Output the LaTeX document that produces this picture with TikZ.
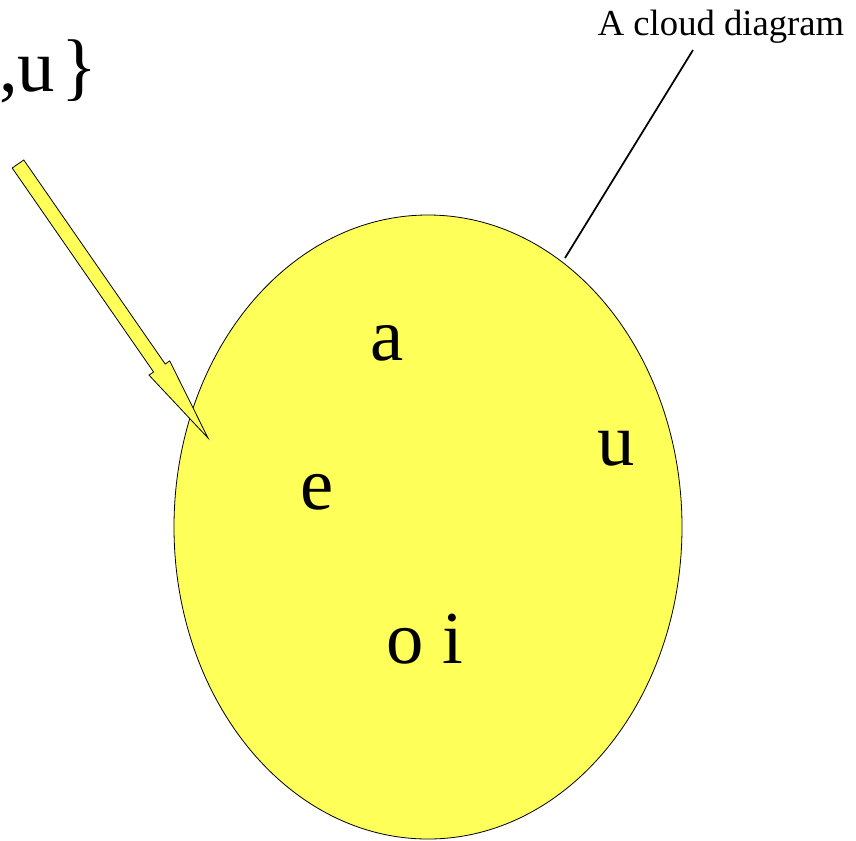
\documentclass[tikz,border=0pt]{standalone}
\usepackage{fontspec}
\setmainfont{Liberation Serif}
\usetikzlibrary{shapes.geometric}
\definecolor{cloudfill}{HTML}{FFFF59}
\newcommand\bigsym{\fontsize{56}{60}\selectfont}

\begin{document}
\begin{tikzpicture}[
  x=0.75pt,y=-0.75pt,
  cloud/.style={ellipse,draw=black,line width=0.6pt,fill=cloudfill,inner sep=0pt},
  elem/.style={font=\bigsym,anchor=base,inner sep=0pt},
  tag/.style={font=\fontsize{27.5}{30}\selectfont,anchor=base,inner sep=0pt},
  blockarrow/.style={draw=black,line width=0.6pt,fill=cloudfill,line join=miter},
  leader/.style={draw=black,line width=1.3pt}]
\useasboundingbox (0,0) rectangle (856,840);
% the set
\node[cloud,minimum width=381pt,minimum height=468pt] (cloud) at (428,527) {};
\node[elem] (ea) at (387.5,360) {a};
\node[elem] (ee) at (317.5,509) {e};
\node[elem] (eu) at (616.5,465) {u};
\node[elem] (eoi) at (424.5,663) {o i};
% set notation, cut at the left edge
\node[font=\bigsym,anchor=base west,inner sep=0pt] (setrest) at (-1,91) {,u\kern4.5pt\}};
% arrow into the cloud
\filldraw[blockarrow] (12.2,168) -- (23.8,160) -- (165.2,364) -- (169.7,360.9)
  -- (208,438) -- (149,375.1) -- (153.6,372) -- cycle;
% caption and leader
\node[tag] (caption) at (721,35) {A cloud diagram};
\coordinate (leadtop) at (693,50);
\coordinate (leadend) at (565,258);
\draw[leader] (leadtop) -- (leadend);
\end{tikzpicture}
\end{document}
